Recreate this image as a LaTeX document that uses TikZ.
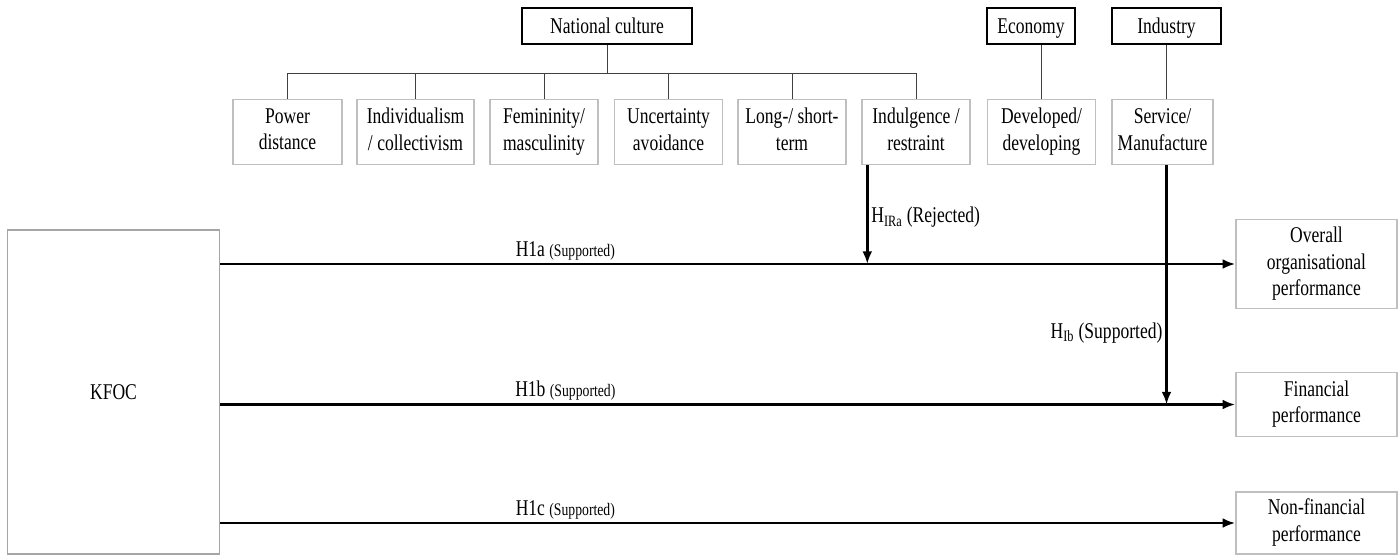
\documentclass[tikz,border=0pt]{standalone}
\usepackage{fontspec}
\setmainfont[FakeStretch=0.78]{Liberation Serif}
\usetikzlibrary{arrows.meta}
\definecolor{boxgrey}{RGB}{191,191,191}
\definecolor{kfocgrey}{RGB}{166,166,166}
\definecolor{linegrey}{RGB}{64,64,64}
\newcommand\status[1]{{\fontsize{12.5}{14}\selectfont(#1)}}
\begin{document}
\begin{tikzpicture}[x=0.025cm,y=-0.025cm,
    every node/.style={font=\fontsize{16}{19}\selectfont,align=center,inner sep=2pt},
    factor/.style={draw=black,line width=1.4pt,minimum height=0.9cm,text height=12.5pt,text depth=2.5pt},
    dimbox/.style={draw=boxgrey,line width=1pt,minimum height=1.625cm,minimum width=2.7cm,
      execute at begin node=\rule{0pt}{17.4pt},execute at end node=\rule[-4pt]{0pt}{4pt}},
    outbox/.style={draw=boxgrey,line width=1pt,minimum width=4.025cm,
      execute at begin node=\rule{0pt}{17.4pt},execute at end node=\rule[-4pt]{0pt}{4pt}},
    tree/.style={draw=linegrey,line width=0.7pt},
    link/.style={line width=1.8pt,-{Latex[length=9pt,width=7pt]}}]
  \useasboundingbox (0,0) rectangle (1399,555);
  % moderators
  \node[factor,minimum width=4.25cm] (natcult) at (607,26) {National culture};
  \node[factor,minimum width=2.2cm] (economy) at (1031,26) {Economy};
  \node[factor,minimum width=2.725cm] (industry) at (1166.5,26) {Industry};
  \node[dimbox,minimum width=2.725cm] (power) at (287.5,132) {Power\\distance};
  \node[dimbox,minimum width=2.925cm] (indiv) at (415.5,132) {Individualism\\/ collectivism};
  \node[dimbox] (femin) at (544,132) {Femininity/\\masculinity};
  \node[dimbox] (uncert) at (668.5,132) {Uncertainty\\avoidance};
  \node[dimbox] (term) at (792,132) {Long-/ short-\\term};
  \node[dimbox] (indul) at (916,132) {Indulgence /\\restraint};
  \node[dimbox] (devel) at (1041.5,132) {Developed/\\developing};
  \node[dimbox,minimum width=2.525cm] (service) at (1162.5,132) {Service/\\Manufacture};
  % model
  \node[draw=kfocgrey,line width=1pt,minimum width=5.3cm,minimum height=8.1cm] (kfoc) at (113.5,392) {KFOC};
  \node[outbox,minimum height=2.225cm] (overall) at (1316.5,264) {Overall\\organisational\\performance};
  \node[outbox,minimum height=1.6cm] (fin) at (1316.5,404.5) {Financial\\performance};
  \node[outbox,minimum height=1.55cm] (nonfin) at (1316.5,523) {Non-financial\\performance};
  % tree
  \coordinate (bus) at (607,73);
  \draw[tree] (natcult.south) -- (bus);
  \draw[tree] (power.north |- bus) -- (indul.north |- bus);
  \foreach \d in {power,indiv,femin,uncert,term,indul}
    \draw[tree] (\d.north) -- (\d.north |- bus);
  \draw[tree] (devel.north) -- (devel.north |- economy.south);
  \draw[tree] (industry.south) -- (industry.south |- service.north);
  % hypotheses
  \draw[link] (kfoc.east |- overall.west) -- node[above,pos=0.34] {H1a \status{Supported}} (overall.west);
  \draw[link] (kfoc.east |- fin.west) -- node[above,pos=0.34] {H1b \status{Supported}} (fin.west);
  \draw[link] (kfoc.east |- nonfin.west) -- node[above,pos=0.34] {H1c \status{Supported}} (nonfin.west);
  \draw[link] ([xshift=0.15cm]indul.south west) -- node[pos=0.53,right] {H\textsubscript{IRa} (Rejected)} ([xshift=0.15cm]indul.south west |- overall.west);
  \draw[link] (industry.south |- service.south) -- node[pos=0.7,left] {H\textsubscript{Ib} (Supported)} (industry.south |- fin.west);
\end{tikzpicture}
\end{document}
